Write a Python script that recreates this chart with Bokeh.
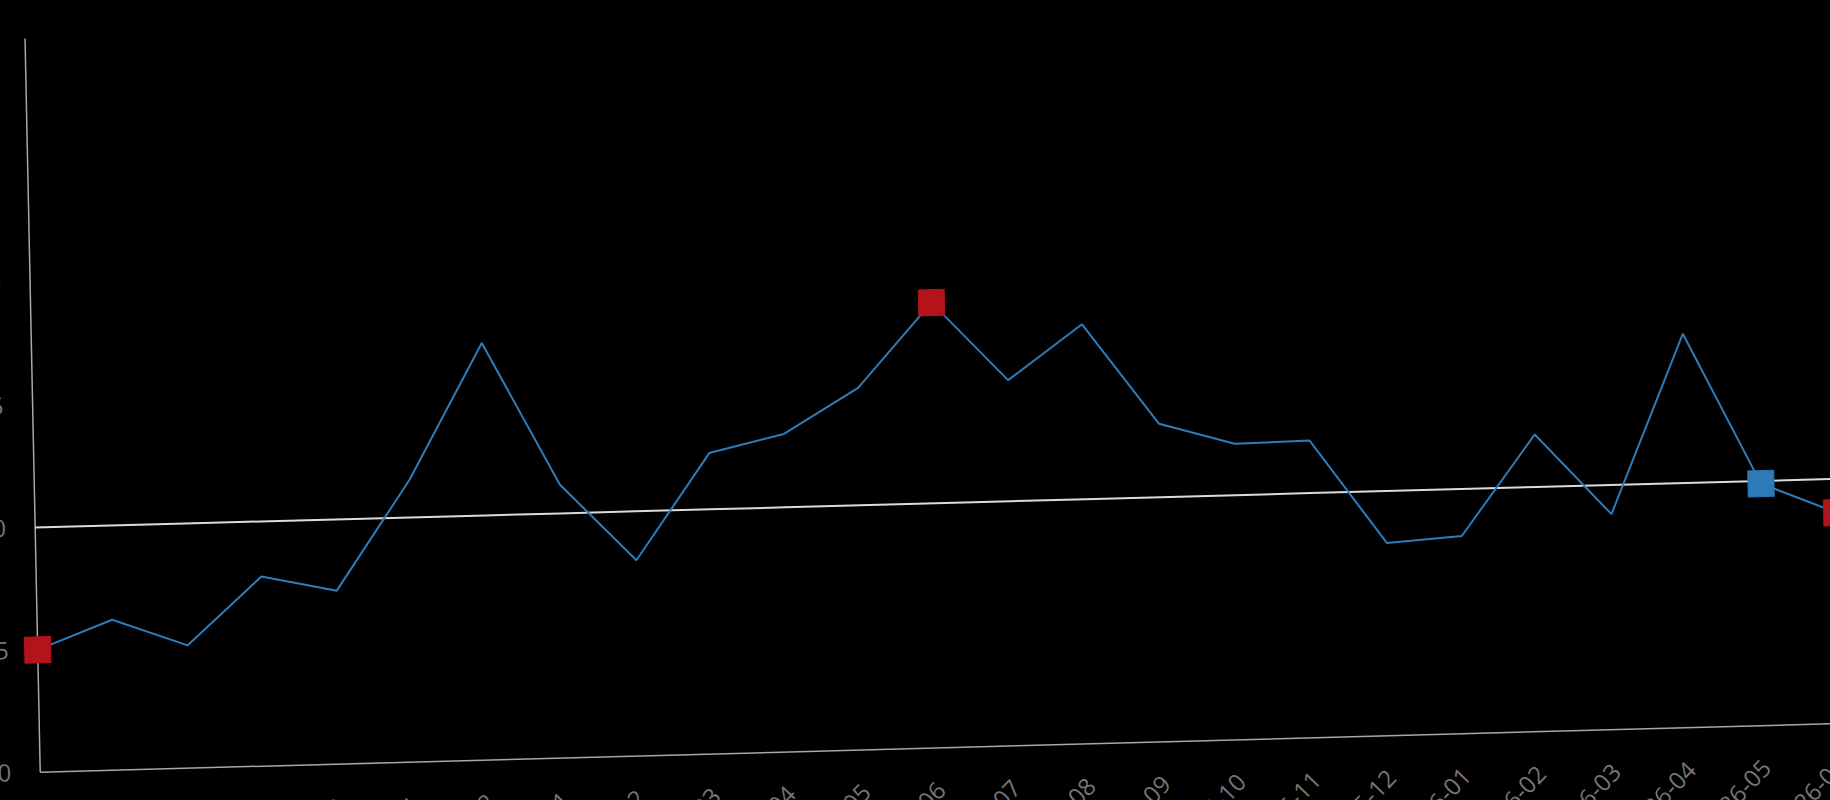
import math
from bokeh.plotting import figure
from bokeh.models import FixedTicker, Range1d, Span, ColumnDataSource
from bokeh.embed import file_html
from bokeh.resources import INLINE

# ---- data ----
months = ["2024-06", "2024-07", "2024-08", "2024-09", "2024-10", "2024-11",
          "2024-12", "2025-01", "2025-02", "2025-03", "2025-04", "2025-05",
          "2025-06", "2025-07", "2025-08", "2025-09", "2025-10", "2025-11",
          "2025-12", "2026-01", "2026-02", "2026-03", "2026-04", "2026-05",
          "2026-06"]
values = [5.0, 6.15, 5.02, 7.75, 7.09, 11.54, 17.05, 11.18, 8.0, 12.3,
          13.0, 14.8, 18.2, 14.95, 17.15, 13.0, 12.1, 12.15, 7.88, 8.08,
          12.15, 8.81, 16.1, 9.89, 8.62]
red_months = ["2024-06", "2025-06", "2026-06"]
blue_months = ["2026-05"]
threshold = 10
y_ticks = [0, 5, 10, 15, 20, 25, 30]

xs = list(range(len(months)))
src = ColumnDataSource(dict(x=xs, y=values))
thr_src = ColumnDataSource(dict(x=xs, y=[threshold] * len(xs)))
red_src = ColumnDataSource(dict(x=[months.index(m) for m in red_months],
                                y=[values[months.index(m)] for m in red_months]))
blue_src = ColumnDataSource(dict(x=[months.index(m) for m in blue_months],
                                 y=[values[months.index(m)] for m in blue_months]))

X0, X1 = -0.2, 24.3
PX_PER_X = 75.05
LB, TB, BB, RB = 80, 20, 150, 10
FW = round((X1 - X0) * PX_PER_X)
FH = 734
OX = LB + round(-X0 * PX_PER_X)   # local pixel of x = 0

p = figure(frame_width=FW, frame_height=FH,
           min_border_left=LB, min_border_top=TB,
           min_border_bottom=BB, min_border_right=RB,
           x_range=Range1d(X0, X1), y_range=Range1d(0, 30),
           output_backend="svg", toolbar_location=None,
           background_fill_color="black", border_fill_color="black",
           outline_line_color=None)
p.grid.visible = False

# tilt of the whole chart as seen in the reference
p.styles = {
    "transform-origin": f"{OX}px {TB + FH}px",
    "transform": f"matrix(0.99963, -0.02700, 0.02070, 0.99979, {39.7 - OX}, 17.7)",
}

# vertical axis line at the first month
p.add_layout(Span(location=xs[0], dimension="height", line_color="#a8a8a8",
                  line_width=1.5, level="underlay"))

p.line("x", "y", source=thr_src, line_color="#dcdcdc", line_width=2)
p.line("x", "y", source=src, line_color="#2d7cbb", line_width=2)
p.scatter("x", "y", source=red_src, marker="square", size=26,
          fill_color="#b3131b", line_color="#b3131b")
p.scatter("x", "y", source=blue_src, marker="square", size=26,
          fill_color="#2c7ab8", line_color="#2c7ab8")

for ax in (p.xaxis[0], p.yaxis[0]):
    ax.axis_line_color = "#a8a8a8"
    ax.axis_line_width = 1.5
    ax.major_tick_line_color = None
    ax.minor_tick_line_color = None
    ax.major_tick_out = 0
    ax.minor_tick_out = 0
    ax.major_tick_in = 0
    ax.major_label_text_color = "#757575"
    ax.major_label_text_font = "Open Sans"
    ax.major_label_text_font_size = "24px"

p.yaxis.axis_line_color = None
p.yaxis.ticker = FixedTicker(ticks=y_ticks)
p.yaxis.major_label_standoff = 29 - round(-X0 * PX_PER_X)

p.xaxis.bounds = (xs[0], X1)
p.xaxis.ticker = FixedTicker(ticks=xs)
p.xaxis.major_label_overrides = {i: m for i, m in zip(xs, months)}
p.xaxis.major_label_orientation = math.pi / 4
p.xaxis.major_label_standoff = 38

template = """
{% block preamble %}
<style>
html, body { margin: 0 !important; padding: 0 !important; overflow: hidden !important; background: #000 !important; }
</style>
{% endblock %}
"""

html = file_html(p, INLINE, template=template)
open("out.html", "w").write(html)
